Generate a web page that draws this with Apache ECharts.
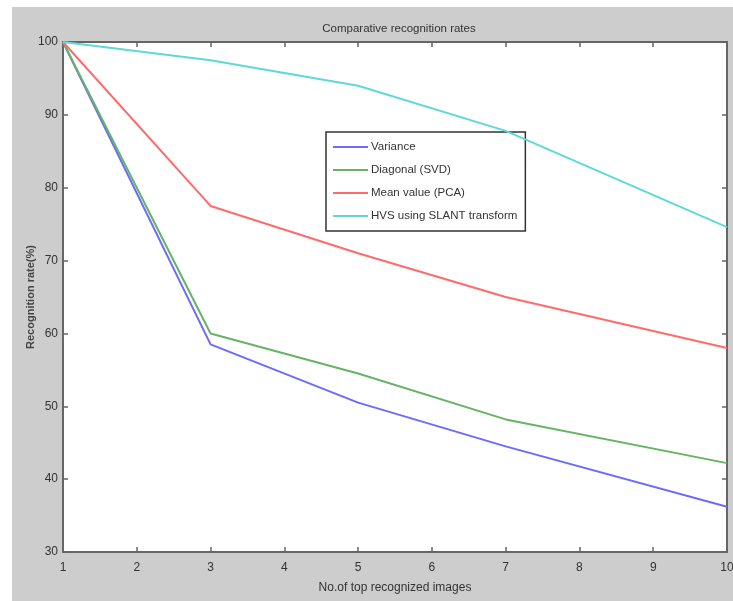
<!DOCTYPE html>
<html>
<head>
<meta charset="utf-8">
<title>Comparative recognition rates</title>
<script src="https://cdn.jsdelivr.net/npm/echarts@6/dist/echarts.min.js"></script>
<style>
  html, body { margin: 0; padding: 0; background: #fff; }
  #chart { position: absolute; left: 12px; top: 7px; width: 721px; height: 594px; background: #cdcdcd; }
</style>
</head>
<body>
<div id="chart"></div>
<script>
// values
const topImages = [1, 3, 5, 7, 10];
const variance = [100, 58.5, 50.5, 44.5, 36.2];
const diagonalSvd = [100, 60, 54.5, 48.2, 42.2];
const meanPca = [100, 77.5, 71, 65, 58];
const hvsSlant = [100, 97.5, 94, 87.8, 74.6];

const seriesNames = ["Variance", "Diagonal (SVD)", "Mean value (PCA)", "HVS using SLANT transform"];
const seriesColors = ["#6b6bff", "#66b366", "#ff6b6b", "#5fd8d8"];
const seriesValues = [variance, diagonalSvd, meanPca, hvsSlant];

const chart = echarts.init(document.getElementById("chart"));

const tickFont = { fontFamily: "Liberation Sans", fontSize: 12, color: "#333" };
const frameLine = { show: true, lineStyle: { color: "#666", width: 2 } };
const innerTick = { show: true, inside: true, length: 5, lineStyle: { color: "#666", width: 1.5 } };

const option = {
  backgroundColor: "#cdcdcd",
  animation: false,
  title: {
    text: "Comparative recognition rates",
    left: 382, top: 11, textAlign: "center",
    textStyle: { fontFamily: "Liberation Sans", fontSize: 11.5, fontWeight: "normal", color: "#333" }
  },
  grid: {
    left: 51, top: 35, width: 664, height: 510,
    outerBoundsMode: "none",
    show: true, backgroundColor: "#fff", borderWidth: 0
  },
  legend: {
    orient: "vertical",
    left: 314, top: 125,
    backgroundColor: "#fff",
    borderColor: "#333", borderWidth: 1.5,
    padding: [9, 8, 9, 7],
    itemWidth: 35, itemHeight: 2, itemGap: 11,
    icon: "rect",
    selectedMode: false,
    textStyle: { fontFamily: "Liberation Sans", fontSize: 11.5, color: "#333", padding: [0, 0, 0, -2] },
    data: seriesNames
  },
  xAxis: [
    {
      type: "value", min: 1, max: 10, interval: 1,
      name: "No.of top recognized images", nameLocation: "middle", nameGap: 30,
      nameMoveOverlap: false,
      nameTextStyle: { fontFamily: "Liberation Sans", fontSize: 12, color: "#333" },
      axisLine: frameLine, axisTick: innerTick,
      axisLabel: Object.assign({ margin: 10 }, tickFont),
      splitLine: { show: false }
    },
    {
      type: "value", min: 1, max: 10, interval: 1, position: "top",
      axisLine: frameLine, axisTick: innerTick,
      axisLabel: { show: false }, splitLine: { show: false }
    }
  ],
  yAxis: [
    {
      type: "value", min: 30, max: 100, interval: 10,
      name: "Recognition rate(%)", nameLocation: "middle", nameGap: 27,
      nameMoveOverlap: false,
      nameTextStyle: { fontFamily: "Liberation Sans", fontSize: 11, fontWeight: "bold", color: "#444" },
      axisLine: frameLine, axisTick: innerTick,
      axisLabel: Object.assign({ margin: 5 }, tickFont),
      splitLine: { show: false }
    },
    {
      type: "value", min: 30, max: 100, interval: 10, position: "right",
      axisLine: frameLine, axisTick: innerTick,
      axisLabel: { show: false }, splitLine: { show: false }
    }
  ],
  series: seriesNames.map((name, i) => ({
    name: name,
    type: "line",
    data: topImages.map((x, j) => [x, seriesValues[i][j]]),
    showSymbol: false,
    lineStyle: { color: seriesColors[i], width: 2 },
    itemStyle: { color: seriesColors[i] },
    z: 2 + i
  }))
};

chart.setOption(option);
</script>
</body>
</html>
